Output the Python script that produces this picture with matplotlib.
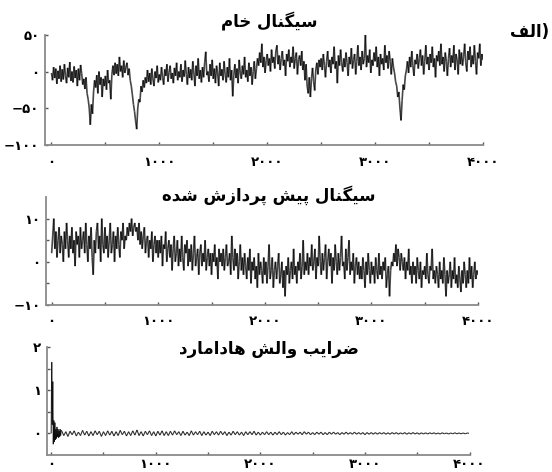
import numpy as np
import matplotlib
matplotlib.use("Agg")
import matplotlib.pyplot as plt
from matplotlib.collections import LineCollection

# ---- داده‌ها (خوانده‌شده از تصویر، هر ۱۰ نمونه یک مقدار) ----
step_raw = 10
raw_signal = [
    -2, -12, 6, -9, 4, -17, 1, -10, 8, -14,
    3, -11, 10, -6, -16, 5, -8, 13, -13, 0,
    -15, 7, -9, 2, -20, 4, -12, 9, -3, -18,
    -10, -24, -8, -30, -38, -50, -73, -45, -58, -28,
    -12, -22, -5, -30, 0, -18, -8, -35, -10, -20,
    -6, -25, 2, -16, -12, -38, -4, 8, -5, 12,
    -3, 10, -6, 20, 0, 8, -8, 15, -2, 6,
    12, -5, 4, -12, -20, -32, -45, -55, -68, -79,
    -50, -38, -42, -20, -28, -12, -22, -8, -16, 2,
    -14, -2, -18, 4, -10, -20, 0, -9, 8, -15,
    -4, -12, 6, -8, -18, 3, -6, 10, -14, -1,
    8, -10, -2, -16, 5, -6, 12, -12, 0, -8,
    10, -14, 2, -7, 15, -4, -18, 6, -9, 3,
    -12, 14, -2, -20, 8, -6, 18, -10, 2, -15,
    6, -8, 12, 27, -5, 0, -14, 10, -6, 16,
    -10, 4, -16, 8, -2, -20, 12, -6, 3, -12,
    14, -4, -15, 6, -8, 18, -12, 2, -34, -5,
    10, -9, 4, -16, 16, -2, -10, 8, -4, 20,
    -8, 2, -14, 12, -6, 6, -18, 0, 14, -10,
    4, 18, 8, 26, 12, 38, 6, 20, -2, 15,
    24, 8, 18, 0, 30, 12, 20, 4, 28, 36,
    10, 22, 2, 18, 28, 8, 16, -6, 24, 14,
    30, 6, 20, 12, 34, 4, 18, 26, -4, 16,
    22, 8, 28, 2, 14, -12, 10, -20, -30, -8,
    -35, -10, 5, -14, -26, 2, 12, -4, 16, 6,
    18, 2, 24, 8, -8, 14, 28, 6, 16, -2,
    20, 10, 34, 4, 14, -16, 22, 8, 30, 12,
    0, 18, 6, 26, 12, -6, 20, 10, 32, 4,
    16, 24, -4, 14, 36, 8, 20, 2, 28, 10,
    18, 50, 6, 22, 12, 30, -2, 16, 8, 26,
    14, 34, 6, 20, -6, 24, 10, 18, 2, 36,
    12, 22, 4, 28, 14, -4, 18, 6, -2, -14,
    -20, -35, -28, -50, -67, -40, -18, -25, -6, 2,
    14, -2, 20, 6, 28, 8, -6, 16, 10, 24,
    4, 18, 30, 8, 22, -4, 14, 36, 10, 20,
    2, 24, 12, 34, 6, 18, -8, 22, 14, 28,
    8, 38, 10, 20, 0, 26, 14, -6, 18, 32,
    6, 22, 12, 36, 2, 24, 16, -4, 30, 10,
    26, 8, 20, 38, 12, 0, 28, 16, 34, 6,
    22, 10, 36, 14, -4, 26, 18, 38, 8, 24,
    16,
]

step_pre = 10
pre_signal = [
    2, 6, 10, 3, 7, 1, 5, 8, 2, 6,
    4, 0, 7, 3, 9, 5, 1, 6, 3, 8,
    2, 5, -1, 7, 4, 6, 1, 8, 3, 5,
    7, 2, 9, 4, 0, 6, 3, 8, 1, -3,
    5, 2, 7, 9, 3, 6, 0, 10, 4, 2,
    8, 3, 6, 1, 5, 9, 2, 4, 7, 0,
    6, 3, 8, 4, 1, 7, 5, 9, 3, 6,
    5, 8, 6, 9, 7, 10, 6, 8, 9, 7,
    8, 5, 9, 4, 7, 3, 6, 8, 2, 5,
    6, 1, 5, 3, 7, 0, 4, 6, 2, 5,
    1, 5, 2, 6, -1, 4, 3, 7, 0, 3,
    5, 1, 4, -2, 3, 6, 0, 2, 5, -1,
    3, 0, 6, 1, -2, 4, 2, 5, -1, 3,
    0, 4, -2, 2, 6, -1, 1, 3, -3, 2,
    4, -1, 2, 0, 5, -2, 1, 3, -1, 2,
    -3, 2, 0, 4, -1, 1, -4, 3, 0, 2,
    -1, 3, -2, 1, 4, -1, 0, 2, -3, 6,
    1, -2, 3, -1, 2, -4, 0, 4, -2, 1,
    -3, 2, -1, -4, 1, -2, 3, -5, 0, -2,
    1, -4, -1, -6, 2, -3, 0, -2, -5, 1,
    -3, 0, -5, -1, 4, -4, -2, 1, -6, -2,
    0, -4, -1, 2, -5, -3, 0, -6, -2, -8,
    -1, -3, 1, -5, -2, 0, -4, 3, -3, -1,
    -5, 0, -2, 2, -4, -1, 5, -3, 0, -2,
    2, -3, 1, -1, 4, -2, 0, 3, -4, 1,
    -1, 6, 0, -3, 2, -2, 1, 4, -4, 0,
    3, -1, 2, -5, 1, -2, 4, 0, -3, 2,
    -2, 1, 6, -1, 0, -4, 3, -2, 1, 5,
    -3, 0, -2, 2, -5, -1, 1, -3, 0, -4,
    -1, -4, 1, -2, -6, 0, -3, 2, -2, -5,
    0, -3, -1, -5, 1, -2, -4, 2, -3, -1,
    -4, 0, -2, 1, -6, -3, -1, -8, -2, 0,
    -1, 2, 0, 4, -1, 3, 1, -2, 2, 0,
    -2, 1, -4, 0, -2, 3, -3, -1, -5, 0,
    -3, -1, -5, 1, -2, -4, 0, -6, -2, -3,
    -1, -4, 2, -3, -5, -1, -2, 3, -4, -2,
    -5, -1, -3, -6, 0, -4, -2, -5, 1, -3,
    -8, -2, -5, -3, 0, -6, -2, -4, 1, -5,
    -3, -6, -1, -4, -7, -2, -5, 0, -3, -6,
    -2, -5, 1, -4, -1, -6, -3, 0, -4, -2,
    -3,
]

step_wh_head = 5
wh_head = [0.0, 1.65, 0.2, 1.2, -0.25, 0.3, -0.2, 0.25, -0.15, 0.1,
           -0.12, 0.15, -0.08, 0.1, -0.1, 0.06, -0.08, 0.1, -0.05, 0.07]
wh_tail_start = 100
step_wh_tail = 20
wh_tail = [
    0.06, -0.05, 0.04, -0.07, 0.05, -0.03, 0.06, -0.06, 0.03, -0.05, 0.07, -0.04, 0.05, -0.06, 0.04, -0.05, 0.06, -0.03, 0.05, -0.07, 0.04, -0.05, 0.06, -0.04, 0.05,
    -0.06, 0.04, -0.05, 0.07, -0.03, 0.05, -0.06, 0.04, -0.05, 0.06, -0.04, 0.08, -0.05, 0.04, -0.06, 0.05, -0.03, 0.06, -0.05, 0.04, -0.06, 0.05, -0.04, 0.06, -0.05,
    0.04, -0.05, 0.05, -0.04, 0.06, -0.03, 0.04, -0.05, 0.05, -0.04, 0.03, -0.05, 0.06, -0.04, 0.04, -0.03, 0.05, -0.05, 0.04, -0.04, 0.03, -0.05, 0.05, -0.03, 0.04,
    -0.04, 0.05, -0.03, 0.04, -0.05, 0.03, -0.04, 0.05, -0.03, 0.04, -0.04, 0.03, -0.05, 0.04, -0.03, 0.04, -0.03, 0.05, -0.04, 0.03, -0.04, 0.03, -0.03, 0.04, -0.03,
    0.03, -0.04, 0.03, -0.03, 0.04, -0.03, 0.03, -0.04, 0.02, -0.03, 0.04, -0.03, 0.03, -0.02, 0.03, -0.03, 0.04, -0.02, 0.03, -0.03, 0.02, -0.03, 0.03, -0.02, 0.03,
    -0.03, 0.02, -0.03, 0.03, -0.02, 0.03, -0.02, 0.02, -0.03, 0.02, -0.02, 0.03, -0.02, 0.02, -0.02, 0.03, -0.02, 0.02, -0.02, 0.02, -0.03, 0.02, -0.02, 0.02, -0.02,
    0.02, -0.02, 0.02, -0.015, 0.02, -0.02, 0.015, -0.02, 0.02, -0.015, 0.02, -0.02, 0.015, -0.015, 0.02, -0.02, 0.015, -0.015, 0.02, -0.015, 0.015, -0.02, 0.015, -0.015, 0.015,
    -0.015, 0.015, -0.01, 0.015, -0.015, 0.01, -0.015, 0.015, -0.01, 0.01, -0.015, 0.01, -0.01, 0.015, -0.01, 0.01, -0.01, 0.01, -0.01, 0.01, 0.0,
]

titles = ["سیگنال خام", "سیگنال پیش پردازش شده", "ضرایب والش هادامارد"]
panel_label = "الف"

# ---- شکل‌دهی حروف فارسی (matplotlib خودش انجام نمی‌دهد) ----
# (isolated, final, initial, medial)
FORMS = {
    "ا": ("\uFE8D", "\uFE8E", None, None),
    "ب": ("\uFE8F", "\uFE90", "\uFE91", "\uFE92"),
    "پ": ("\uFB56", "\uFB57", "\uFB58", "\uFB59"),
    "خ": ("\uFEA5", "\uFEA6", "\uFEA7", "\uFEA8"),
    "د": ("\uFEA9", "\uFEAA", None, None),
    "ر": ("\uFEAD", "\uFEAE", None, None),
    "ز": ("\uFEAF", "\uFEB0", None, None),
    "س": ("\uFEB1", "\uFEB2", "\uFEB3", "\uFEB4"),
    "ش": ("\uFEB5", "\uFEB6", "\uFEB7", "\uFEB8"),
    "ض": ("\uFEBD", "\uFEBE", "\uFEBF", "\uFEC0"),
    "ف": ("\uFED1", "\uFED2", "\uFED3", "\uFED4"),
    "گ": ("\uFB92", "\uFB93", "\uFB94", "\uFB95"),
    "ل": ("\uFEDD", "\uFEDE", "\uFEDF", "\uFEE0"),
    "م": ("\uFEE1", "\uFEE2", "\uFEE3", "\uFEE4"),
    "ن": ("\uFEE5", "\uFEE6", "\uFEE7", "\uFEE8"),
    "ه": ("\uFEE9", "\uFEEA", "\uFEEB", "\uFEEC"),
    "و": ("\uFEED", "\uFEEE", None, None),
    "ی": ("\uFBFC", "\uFBFD", "\uFBFE", "\uFBFF"),
}


def shape_fa(text):
    out = []
    for i, ch in enumerate(text):
        if ch not in FORMS:
            out.append(ch)
            continue
        prev = text[i - 1] if i > 0 else ""
        nxt = text[i + 1] if i + 1 < len(text) else ""
        joins_prev = prev in FORMS and FORMS[prev][2] is not None
        joins_next = FORMS[ch][2] is not None and nxt in FORMS
        iso, fin, ini, med = FORMS[ch]
        if joins_prev and joins_next:
            out.append(med)
        elif joins_next:
            out.append(ini)
        elif joins_prev:
            out.append(fin)
        else:
            out.append(iso)
    return "".join(out)[::-1]


FA_DIGITS = str.maketrans("0123456789-", "۰۱۲۳۴۵۶۷۸۹−")


def fa_num(v):
    return str(v).translate(FA_DIGITS)


def draw_signal(ax, x, y, lw, alpha):
    # هر پاره‌خط جدا کشیده می‌شود تا هسته‌ی سیگنال تیره‌تر از نوک‌ها شود
    pts = np.column_stack([x, y])
    segs = np.stack([pts[:-1], pts[1:]], axis=1)
    ax.add_collection(LineCollection(segs, colors="black", linewidths=lw, alpha=alpha))


plt.rcParams["font.family"] = ["DejaVu Sans"]
plt.rcParams["font.weight"] = "bold"

fig = plt.figure(figsize=(5.52, 4.72), dpi=100)

W, H = 552.0, 472.0


def box(l, t, r, b):
    return [l / W, 1 - b / H, (r - l) / W, (b - t) / H]


ax1 = fig.add_axes(box(45, 35, 483, 144.5))
ax2 = fig.add_axes(box(46, 197, 478, 305))
ax3 = fig.add_axes(box(46.5, 347, 469.5, 455))

x_raw = np.arange(len(raw_signal)) * step_raw
x_pre = np.arange(len(pre_signal)) * step_pre
x_wh = np.concatenate([np.arange(len(wh_head)) * step_wh_head,
                       wh_tail_start + np.arange(len(wh_tail)) * step_wh_tail])
y_wh = np.concatenate([wh_head, wh_tail])

draw_signal(ax1, x_raw, raw_signal, 1.2, 0.72)
draw_signal(ax2, x_pre, pre_signal, 1.2, 0.72)
draw_signal(ax3, x_wh, y_wh, 0.8, 0.8)

xlims = [(-60, 4000), (-53, 4000), (-45, 4000)]
ylims = [(-100, 50), (-10, 15), (-0.5, 2)]
yticks_major = [[-100, -50, 0, 50], [-10, 0, 10], [0, 1, 2]]
yticks_minor = [[], [-5, 5], [0.5, 1.5]]
xpads = [8, 7, 2.5]

for ax, xl, yl, yt, ym, xp in zip([ax1, ax2, ax3], xlims, ylims, yticks_major, yticks_minor, xpads):
    ax.set_xlim(*xl)
    ax.set_ylim(*yl)
    for s in ["top", "right"]:
        ax.spines[s].set_visible(False)
    for s in ["left", "bottom"]:
        ax.spines[s].set_color("#8a8a8a")
        ax.spines[s].set_linewidth(1.3)
    xt = list(range(0, 4001, 500))
    ax.set_xticks(xt)
    ax.set_xticklabels([fa_num(v) if v % 1000 == 0 else "" for v in xt])
    ax.set_yticks(yt)
    ax.set_yticklabels([fa_num(v) for v in yt])
    ax.set_yticks(ym, minor=True)
    ax.tick_params(axis="both", which="both", direction="in", length=2.5,
                   width=1, color="#555555", labelsize=9.5)
    ax.tick_params(axis="x", pad=xp)
    ax.tick_params(axis="y", pad=4)

title_pos = [(269, 21), (269, 195), (269, 349)]
for t, (px, py) in zip(titles, title_pos):
    fig.text(px / W, 1 - py / H, shape_fa(t), ha="center", va="center",
             fontsize=12, fontweight="bold", family="DejaVu Sans")

fig.text(549 / W, 1 - 32 / H, shape_fa(panel_label) + ")", ha="right", va="center",
         fontsize=12, fontweight="bold", family="DejaVu Sans")

fig.savefig("out.png", dpi=100)
